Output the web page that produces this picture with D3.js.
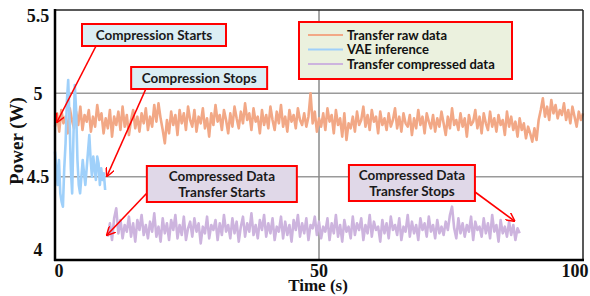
<!DOCTYPE html>
<html>
<head>
<meta charset="utf-8">
<script src="https://cdn.jsdelivr.net/npm/d3@7"></script>
<style>
  body { margin: 0; background: #fff; }
  svg { display: block; }
</style>
</head>
<body>
<div class="graph-container"></div>
<script>
// power traces (W)
const rawStart = 0, rawStep = 0.4;
const rawPower = [
  4.80,4.88,4.77,4.90,4.82,4.86,4.76,4.91,4.84,4.79,
  4.89,4.81,4.92,4.78,4.87,4.83,4.90,4.77,4.86,4.80,
  4.93,4.84,4.88,4.76,4.85,4.79,4.90,4.74,4.86,4.81,
  4.89,4.78,4.92,4.80,4.87,4.75,4.84,4.90,4.79,4.86,
  4.77,4.88,4.82,4.91,4.78,4.86,4.80,4.93,4.83,4.94,
  4.85,4.78,4.70,4.84,4.76,4.89,4.81,4.87,4.75,4.90,
  4.82,4.88,4.78,4.92,4.84,4.80,4.90,4.77,4.86,4.82,
  4.91,4.79,4.85,4.74,4.88,4.81,4.93,4.83,4.87,4.78,
  4.90,4.84,4.76,4.88,4.80,4.92,4.85,4.79,4.89,4.82,
  4.94,4.84,4.88,4.78,4.91,4.83,4.86,4.76,4.90,4.81,
  4.87,4.79,4.92,4.84,4.78,4.89,4.82,4.93,4.80,4.86,
  4.77,4.90,4.83,4.87,4.79,4.91,4.84,4.81,4.88,4.80,
  4.86,5.00,4.82,4.89,4.77,4.85,4.80,4.88,4.78,4.91,
  4.83,4.87,4.76,4.90,4.81,4.85,4.74,4.88,4.72,4.82,
  4.79,4.86,4.77,4.89,4.81,4.84,4.92,4.80,4.87,4.78,
  4.90,4.83,4.86,4.76,4.89,4.81,4.85,4.78,4.88,4.80,
  4.84,4.91,4.79,4.86,4.77,4.88,4.82,4.80,4.87,4.75,
  4.85,4.79,4.90,4.81,4.86,4.76,4.88,4.83,4.79,4.87,
  4.77,4.85,4.80,4.89,4.82,4.75,4.86,4.79,4.91,4.81,
  4.84,4.78,4.88,4.80,4.85,4.74,4.87,4.81,4.83,4.90,
  4.79,4.86,4.76,4.88,4.82,4.78,4.89,4.80,4.85,4.77,
  4.87,4.81,4.84,4.75,4.89,4.80,4.86,4.78,4.83,4.74,
  4.85,4.78,4.82,4.73,4.80,4.76,4.71,4.79,4.72,4.84,
  4.90,4.97,4.86,4.92,4.84,4.96,4.88,4.93,4.85,4.90,
  4.87,4.94,4.84,4.90,4.82,4.92,4.86,4.80,4.89,4.84,
  4.88
];

const vaeStart = 0, vaeStep = 0.25;
const vaePower = [
  4.65,4.55,4.45,4.60,4.40,4.35,4.32,4.55,4.70,4.95,
  5.08,4.85,4.55,4.40,4.75,5.05,4.90,4.60,4.45,4.40,
  4.50,4.60,4.52,4.45,4.55,4.65,4.75,4.60,4.50,4.62,
  4.55,4.48,4.62,4.58,4.45,4.55,4.48,4.52,4.42
];

const compStart = 10, compStep = 0.4;
const compPower = [
  4.14,4.22,4.12,4.25,4.31,4.16,4.24,4.13,4.21,4.17,
  4.26,4.14,4.22,4.11,4.24,4.18,4.27,4.15,4.21,4.13,
  4.23,4.17,4.28,4.14,4.20,4.11,4.25,4.16,4.22,4.12,
  4.24,4.18,4.27,4.13,4.21,4.15,4.26,4.12,4.19,4.23,
  4.14,4.25,4.17,4.22,4.10,4.20,4.16,4.26,4.13,4.21,
  4.18,4.24,4.12,4.22,4.15,4.27,4.17,4.21,4.13,4.25,
  4.16,4.23,4.11,4.20,4.26,4.14,4.22,4.17,4.28,4.15,
  4.21,4.13,4.24,4.18,4.27,4.14,4.22,4.16,4.25,4.12,
  4.20,4.17,4.26,4.13,4.23,4.15,4.21,4.11,4.24,4.18,
  4.27,4.14,4.22,4.16,4.25,4.12,4.21,4.19,4.26,4.15,
  4.23,4.13,4.20,4.17,4.25,4.12,4.22,4.16,4.27,4.14,
  4.21,4.11,4.24,4.17,4.20,4.13,4.26,4.15,4.22,4.18,
  4.25,4.12,4.21,4.16,4.27,4.14,4.23,4.18,4.20,4.11,
  4.24,4.16,4.22,4.13,4.26,4.18,4.21,4.15,4.25,4.12,
  4.20,4.17,4.27,4.14,4.23,4.16,4.21,4.12,4.25,4.18,
  4.22,4.14,4.26,4.17,4.21,4.13,4.24,4.16,4.20,4.15,
  4.23,4.18,4.27,4.32,4.19,4.13,4.25,4.16,4.22,4.14,
  4.21,4.17,4.26,4.12,4.23,4.18,4.20,4.14,4.25,4.16,
  4.22,4.13,4.27,4.17,4.21,4.11,4.24,4.16,4.20,4.14,
  4.23,4.15,4.21,4.12,4.19,4.16
];

const xTicks = [0, 50, 100];
const yTicks = [4, 4.5, 5, 5.5];
const yGrid = [4.5, 5];
const xGrid = [50];

const seriesNames = ['Transfer raw data', 'VAE inference', 'Transfer compressed data'];
const seriesColors = ['#f2a886', '#9fd0fa', '#cdb4de'];

// callouts: text lines, box centre (t, W), arrow from -> to (t, W)
const notes = [
  { lines: ['Compression Starts'], cx: 18.75, cy: 5.35, w: 144, h: 22, fill: '#dbeef4',
    from: [7.77, 5.284], to: [0.38, 4.828] },
  { lines: ['Compression Stops'], cx: 27.3, cy: 5.092, w: 136, h: 22, fill: '#dbeef4',
    from: [17.2, 5.026], to: [9.85, 4.504] },
  { lines: ['Compressed Data', 'Transfer Starts'], cx: 31.6, cy: 4.456, w: 150, h: 36, fill: '#e0d8e8',
    from: [17.6, 4.408], to: [9.85, 4.15] },
  { lines: ['Compressed Data', 'Transfer Stops'], cx: 67.6, cy: 4.462, w: 126, h: 36, fill: '#e0d8e8',
    from: [79.55, 4.408], to: [87.0, 4.234] }
];

const width = 590, height = 296;
const margin = { top: 10, right: 7, bottom: 36, left: 55 };

const svg = d3.select('div.graph-container')
  .append('svg')
  .attr('width', width)
  .attr('height', height);

const x = d3.scaleLinear().domain([0, 100]).range([margin.left, width - margin.right]);
const y = d3.scaleLinear().domain([4, 5.5]).range([height - margin.bottom, margin.top]);

// grid
svg.append('g')
  .selectAll('line.hgrid')
  .data(yGrid)
  .enter()
  .append('line')
  .attr('x1', x(0)).attr('x2', x(100))
  .attr('y1', d => y(d)).attr('y2', d => y(d))
  .attr('stroke', '#9a9a9a')
  .attr('stroke-width', 1.5);

svg.append('g')
  .selectAll('line.vgrid')
  .data(xGrid)
  .enter()
  .append('line')
  .attr('x1', d => x(d)).attr('x2', d => x(d))
  .attr('y1', y(4)).attr('y2', y(5.5))
  .attr('stroke', '#8a8a8a')
  .attr('stroke-width', 1.5);

// series
const toPts = (vals, start, step) => vals.map((v, i) => [start + i * step, v]);
const line = d3.line().x(d => x(d[0])).y(d => y(d[1]));

const traces = [
  { pts: toPts(rawPower, rawStart, rawStep), color: seriesColors[0], w: 2.6 },
  { pts: toPts(compPower, compStart, compStep), color: seriesColors[2], w: 2.6 },
  { pts: toPts(vaePower, vaeStart, vaeStep), color: seriesColors[1], w: 2.6 }
];

svg.append('g')
  .selectAll('path')
  .data(traces)
  .enter()
  .append('path')
  .attr('d', d => line(d.pts))
  .attr('fill', 'none')
  .attr('stroke', d => d.color)
  .attr('stroke-width', d => d.w)
  .attr('stroke-linejoin', 'round');

// frame
svg.append('line')
  .attr('x1', x(0)).attr('x2', x(100)).attr('y1', y(5.5)).attr('y2', y(5.5))
  .attr('stroke', '#222').attr('stroke-width', 1.5);
svg.append('line')
  .attr('x1', x(100)).attr('x2', x(100)).attr('y1', y(5.5)).attr('y2', y(4))
  .attr('stroke', '#222').attr('stroke-width', 1.5);
svg.append('line')
  .attr('x1', x(0)).attr('x2', x(0)).attr('y1', y(5.5) - 1).attr('y2', y(4) + 1)
  .attr('stroke', '#000').attr('stroke-width', 2.5);
svg.append('line')
  .attr('x1', x(0) - 1).attr('x2', x(100) + 1).attr('y1', y(4)).attr('y2', y(4))
  .attr('stroke', '#000').attr('stroke-width', 2.5);

// tick labels
const serif = '"Liberation Serif", "Times New Roman", serif';
svg.append('g')
  .selectAll('text')
  .data(yTicks)
  .enter()
  .append('text')
  .attr('x', 38)
  .attr('y', d => Math.min(Math.max(y(d), 16), 250))
  .attr('dy', '0.36em')
  .attr('text-anchor', 'middle')
  .attr('font-family', serif)
  .attr('font-weight', 'bold')
  .attr('font-size', '18px')
  .attr('fill', '#111')
  .text(d => d);

svg.append('g')
  .selectAll('text')
  .data(xTicks)
  .enter()
  .append('text')
  .attr('x', d => Math.min(Math.max(x(d), 59), 575))
  .attr('y', 277)
  .attr('text-anchor', 'middle')
  .attr('font-family', serif)
  .attr('font-weight', 'bold')
  .attr('font-size', '18px')
  .attr('fill', '#111')
  .text(d => d);

svg.append('text')
  .attr('x', 318).attr('y', 291)
  .attr('text-anchor', 'middle')
  .attr('font-family', serif)
  .attr('font-weight', 'bold')
  .attr('font-size', '17px')
  .attr('fill', '#111')
  .text('Time (s)');

svg.append('text')
  .attr('transform', 'translate(23, 141) rotate(-90)')
  .attr('text-anchor', 'middle')
  .attr('font-family', serif)
  .attr('font-weight', 'bold')
  .attr('font-size', '19px')
  .attr('fill', '#111')
  .text('Power (W)');

// legend
const sans = 'Lato, "Open Sans", sans-serif';
const lg = svg.append('g').attr('transform', 'translate(299, 22)');
lg.append('rect')
  .attr('width', 213).attr('height', 57)
  .attr('fill', '#ebf1de')
  .attr('stroke', '#ff0000').attr('stroke-width', 2);
lg.selectAll('line')
  .data(seriesNames)
  .enter()
  .append('line')
  .attr('x1', 9).attr('x2', 44)
  .attr('y1', (d, i) => 13 + i * 14.5).attr('y2', (d, i) => 13 + i * 14.5)
  .attr('stroke', (d, i) => seriesColors[i])
  .attr('stroke-width', 2);
lg.selectAll('text')
  .data(seriesNames)
  .enter()
  .append('text')
  .attr('x', 48)
  .attr('y', (d, i) => 13 + i * 14.5)
  .attr('dy', '0.35em')
  .attr('font-family', sans)
  .attr('font-weight', 'bold')
  .attr('font-size', '13px')
  .attr('fill', '#111')
  .text(d => d);

// callouts
svg.append('defs').append('marker')
  .attr('id', 'open-arrow')
  .attr('viewBox', '0 0 10 10')
  .attr('refX', 9).attr('refY', 5)
  .attr('markerWidth', 9).attr('markerHeight', 9)
  .attr('markerUnits', 'userSpaceOnUse')
  .attr('orient', 'auto')
  .append('path')
  .attr('d', 'M0,0 L10,5 L0,10')
  .attr('fill', 'none')
  .attr('stroke', '#ff0000')
  .attr('stroke-width', 1.6);

const ng = svg.append('g')
  .selectAll('g')
  .data(notes)
  .enter()
  .append('g');

ng.append('line')
  .attr('x1', d => x(d.from[0])).attr('y1', d => y(d.from[1]))
  .attr('x2', d => x(d.to[0])).attr('y2', d => y(d.to[1]))
  .attr('stroke', '#ff0000')
  .attr('stroke-width', 1.6)
  .attr('marker-end', 'url(#open-arrow)');

ng.append('rect')
  .attr('x', d => x(d.cx) - d.w / 2)
  .attr('y', d => y(d.cy) - d.h / 2)
  .attr('width', d => d.w)
  .attr('height', d => d.h)
  .attr('fill', d => d.fill)
  .attr('stroke', '#ff0000')
  .attr('stroke-width', 2);

ng.each(function (d) {
  const n = d.lines.length;
  d3.select(this).selectAll('text')
    .data(d.lines)
    .enter()
    .append('text')
    .attr('x', x(d.cx))
    .attr('y', (l, i) => y(d.cy) + (i - (n - 1) / 2) * 16)
    .attr('dy', '0.35em')
    .attr('text-anchor', 'middle')
    .attr('font-family', sans)
    .attr('font-weight', 'bold')
    .attr('font-size', '13.5px')
    .attr('fill', '#1a1a1a')
    .text(l => l);
});
</script>
</body>
</html>
